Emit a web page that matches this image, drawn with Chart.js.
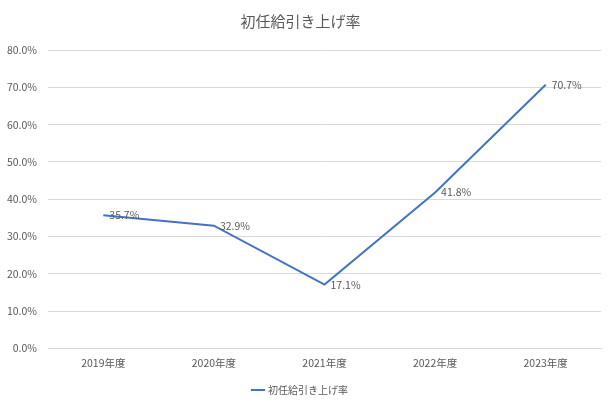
<!DOCTYPE html>
<html>
<head>
<meta charset="utf-8">
<script src="https://cdn.jsdelivr.net/npm/chart.js@4.4.1/dist/chart.umd.min.js"></script>
<style>
  html, body { margin: 0; padding: 0; background: #fff; }
  #wrap { width: 612px; height: 408px; }
</style>
</head>
<body>
<div id="wrap"><canvas id="chart"></canvas></div>
<script>
// Chart data
const categories = ['2019年度', '2020年度', '2021年度', '2022年度', '2023年度'];
const seriesName = '初任給引き上げ率';
const rates = [35.7, 32.9, 17.1, 41.8, 70.7];

const FONT = "'Noto Sans CJK JP', 'Noto Sans', sans-serif";
const TEXT = '#595959';

// Draw value labels to the right of each point
const valueLabels = {
  id: 'valueLabels',
  afterDatasetsDraw(chart) {
    const ctx = chart.ctx;
    const meta = chart.getDatasetMeta(0);
    ctx.save();
    ctx.font = '10.5px ' + FONT;
    ctx.fillStyle = TEXT;
    ctx.textAlign = 'left';
    ctx.textBaseline = 'middle';
    meta.data.forEach((pt, i) => {
      ctx.fillText(rates[i].toFixed(1) + '%', pt.x + 6, pt.y);
    });
    ctx.restore();
  }
};

new Chart(document.getElementById('chart'), {
  type: 'line',
  data: {
    labels: categories,
    datasets: [{
      label: seriesName,
      data: rates,
      borderColor: '#4472C4',
      backgroundColor: '#4472C4',
      borderWidth: 2,
      pointRadius: 0,
      tension: 0,
      fill: false
    }]
  },
  options: {
    responsive: true,
    maintainAspectRatio: false,
    animation: false,
    layout: { padding: { left: 0, right: 11, top: 8, bottom: 3 } },
    plugins: {
      title: {
        display: true,
        text: seriesName,
        color: TEXT,
        font: { family: FONT, size: 15, weight: 'normal' },
        padding: { top: 4, bottom: 20 }
      },
      legend: {
        position: 'bottom',
        labels: {
          color: TEXT,
          font: { family: FONT, size: 10 },
          usePointStyle: true,
          pointStyle: 'line',
          boxWidth: 20,
          padding: 8
        }
      },
      tooltip: { enabled: false }
    },
    scales: {
      x: {
        offset: true,
        grid: { display: false, drawTicks: false },
        border: { color: '#d9d9d9' },
        ticks: { color: TEXT, font: { family: FONT, size: 10.5 }, padding: 8 }
      },
      y: {
        min: 0,
        max: 80,
        afterFit(scale) { scale.width = 48; },
        grid: { color: '#d9d9d9', drawTicks: false },
        border: { display: false },
        ticks: {
          stepSize: 10,
          color: TEXT,
          font: { family: FONT, size: 10.5 },
          padding: 11,
          callback: v => v.toFixed(1) + '%'
        }
      }
    }
  },
  plugins: [valueLabels]
});
</script>
</body>
</html>
